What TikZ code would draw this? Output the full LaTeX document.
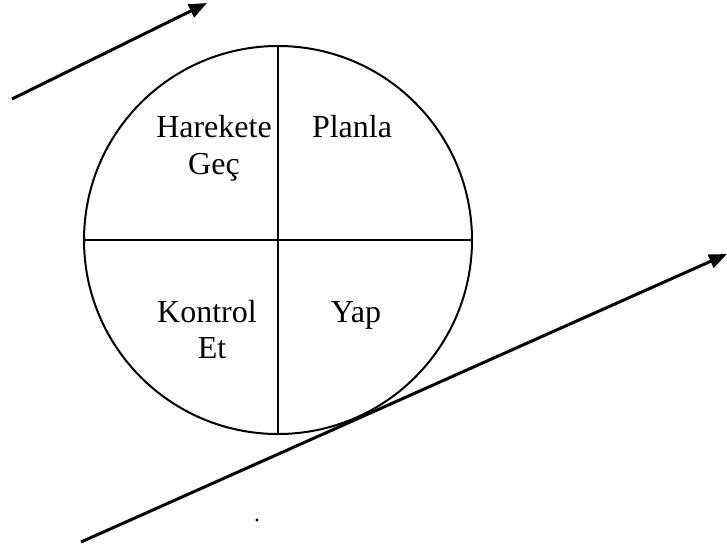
\documentclass[tikz,border=0pt]{standalone}
\usepackage{fontspec}
\setmainfont{Liberation Serif}
\usetikzlibrary{arrows.meta}
\begin{document}
\begin{tikzpicture}[x=1pt,y=-1pt,
  lbl/.style={font=\fontsize{32}{37}\selectfont, inner sep=0pt, anchor=base},
  flow/.style={line width=3pt, -{Triangle[length=18pt,width=14pt]}},
  divider/.style={line width=2pt},
  wheel/.style={draw, circle, line width=2pt, minimum size=388pt, inner sep=0pt}]
\useasboundingbox[fill=white] (0,0) rectangle (727,549);
\node[wheel] (c) at (278,240) {};
\draw[divider] (c.north) -- (c.south);
\draw[divider] (c.west) -- (c.east);
\node[lbl] (h1) at (214,137) {Harekete};
\node[lbl] (h2) at (214,174) {Geç};
\node[lbl] (p) at (352,137) {Planla};
\node[lbl] (k1) at (207,322) {Kontrol};
\node[lbl] (k2) at (212,358) {Et};
\node[lbl] (y) at (356,322) {Yap};
\coordinate (a1) at (12,99);
\coordinate (a2) at (207,3);
\coordinate (b1) at (81,542);
\coordinate (b2) at (727,254);
\draw[flow] (a1) -- (a2);
\draw[flow] (b1) -- (b2);
\fill (257,520) circle (1.6pt);
\end{tikzpicture}
\end{document}
